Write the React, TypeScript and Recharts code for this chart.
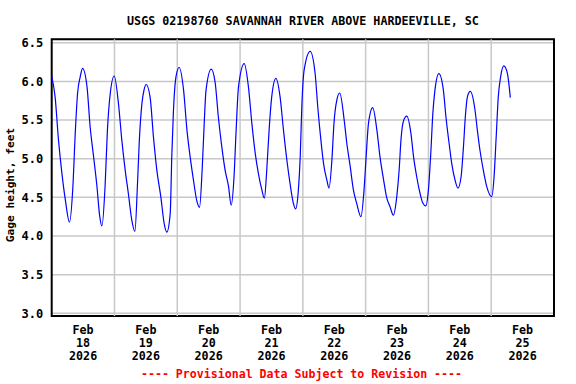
import React from 'react';
import { LineChart, Line, XAxis, YAxis, CartesianGrid, ReferenceLine, ReferenceArea } from 'recharts';

// hours since Feb 18 2026 00:00
const hours = [
  0, 1.3, 2.6, 3.9, 5.2, 6.8, 8.1, 9.0, 9.9, 10.9, 11.8, 13.5, 14.7, 16.0, 17.3, 18.3, 19.2,
  20.4, 21.3, 22.4, 23.9, 25.5, 26.8, 28.1, 29.3, 30.6, 31.8, 32.8, 33.5, 34.5, 35.3, 36.1,
  37.6, 38.9, 40.2, 41.7, 43.0, 44.0, 45.3, 45.9, 46.5, 47.5, 48.7, 50.4, 51.7, 52.9, 54.2,
  55.5, 56.5, 57.5, 58.3, 59.0, 61.0, 62.5, 63.7, 65.0, 66.3, 67.6, 68.6, 69.7, 70.5, 71.4,
  73.6, 75.2, 76.5, 77.8, 79.0, 80.3, 81.3, 82.2, 83.1, 84.1, 85.7, 87.3, 88.6, 89.9, 91.1,
  92.4, 93.2, 94.3, 95.0, 95.6, 96.5, 98.8, 100.7, 101.7, 102.9, 103.9, 105.2, 106.0, 107.1,
  107.9, 109.0, 110.1, 111.8, 112.8, 114.1, 115.3, 116.6, 118.2, 119.4, 120.2, 121.1, 122.7,
  124.3, 125.5, 126.8, 128.1, 129.3, 130.6, 131.9, 132.8, 133.5, 134.4, 135.7, 137.3, 138.3,
  139.5, 140.8, 141.8, 143.0, 144.0, 144.9, 145.7, 146.5, 148.0, 149.7, 150.7, 151.9, 152.9,
  154.2, 155.3, 156.5, 157.4, 158.1, 158.9, 160.0, 161.8, 162.7, 163.7, 165.0, 166.3, 168.2,
  169.1, 169.9, 170.7, 171.6, 172.8, 174.2, 175.3,
];

const gageHeight = [
  6.07, 5.80, 5.24, 4.81, 4.47, 4.18, 4.64, 5.33, 5.85, 6.06, 6.17, 5.93, 5.41, 5.03, 4.64, 4.27, 4.13,
  4.64, 5.37, 5.85, 6.07, 5.72, 5.24, 4.85, 4.55, 4.21, 4.06, 4.68, 5.24, 5.72, 5.89, 5.96,
  5.80, 5.28, 4.85, 4.51, 4.16, 4.05, 4.29, 5.03, 5.59, 6.06, 6.18, 5.89, 5.37, 5.03, 4.72,
  4.45, 4.37, 4.85, 5.46, 5.89, 6.16, 5.98, 5.54, 5.16, 4.85, 4.64, 4.40, 4.77, 5.37, 5.93,
  6.23, 5.93, 5.46, 5.07, 4.81, 4.60, 4.49, 4.85, 5.37, 5.80, 6.04, 5.80, 5.37, 4.98, 4.68,
  4.42, 4.35, 4.60, 5.03, 5.67, 6.15, 6.39, 6.10, 5.67, 5.24, 4.94, 4.72, 4.62, 4.98,
  5.46, 5.76, 5.85, 5.50, 5.20, 4.90, 4.60, 4.42, 4.25, 4.60, 5.03, 5.46, 5.66,
  5.37, 5.02, 4.74, 4.49, 4.38, 4.27, 4.51, 4.85, 5.24, 5.48, 5.55, 5.33, 5.03,
  4.77, 4.55, 4.43, 4.39, 4.60, 5.07, 5.59, 5.89, 6.10, 5.89, 5.54, 5.20, 4.94,
  4.72, 4.62, 4.77, 5.16, 5.54, 5.80, 5.87, 5.63, 5.37, 5.11, 4.85, 4.64, 4.51,
  4.77, 5.28, 5.80, 6.06, 6.20, 6.10, 5.79,
];

const dayLabels = ['18', '19', '20', '21', '22', '23', '24', '25'];
const labelTicks = [12, 36, 60, 84, 108, 132, 156, 180];
const dayLines = [24, 48, 72, 96, 120, 144, 168];
const yTicks = [3.0, 3.5, 4.0, 4.5, 5.0, 5.5, 6.0, 6.5];

const data = hours.map((h, i) => ({ h, v: gageHeight[i] }));

const FONT = '"DejaVu Sans Mono", monospace';

const DayTick = (props: any) => {
  const { x, y, payload } = props;
  const idx = labelTicks.indexOf(payload.value);
  const style = { fontFamily: FONT, fontSize: 11.7, fontWeight: 'bold' as const, fill: '#000' };
  return (
    <g>
      <text x={x} y={y + 18} textAnchor="middle" {...style}>Feb</text>
      <text x={x} y={y + 31} textAnchor="middle" {...style}>{dayLabels[idx]}</text>
      <text x={x} y={y + 44} textAnchor="middle" {...style}>2026</text>
    </g>
  );
};

export default function App() {
  return (
    <div style={{ position: 'fixed', left: 0, top: 0, width: 576, height: 384, background: '#fff' }}>
      <LineChart width={576} height={384} data={data} margin={{ top: 39.3, right: 22, bottom: 0, left: 0 }}>
        <CartesianGrid vertical={false} stroke="#c8c8c8" strokeWidth={1.5} />
        {dayLines.map((d) => (
          <ReferenceLine key={d} x={d} stroke="#c8c8c8" strokeWidth={1.5} />
        ))}
        <XAxis
          dataKey="h"
          type="number"
          domain={[0, 192]}
          ticks={labelTicks}
          tick={<DayTick />}
          tickLine={false}
          axisLine={false}
          tickSize={0}
          tickMargin={0}
          height={68}
          interval={0}
        />
        <YAxis
          type="number"
          domain={[2.965, 6.545]}
          ticks={yTicks}
          tickFormatter={(v: number) => v.toFixed(1)}
          tick={{ fontFamily: FONT, fontSize: 12, fontWeight: 'bold', fill: '#000' }}
          tickLine={false}
          axisLine={false}
          tickSize={0}
          tickMargin={8.4}
          width={51.7}
          interval={0}
        />
        <Line
          type="monotone"
          dataKey="v"
          stroke="#0000ff"
          strokeWidth={1.2}
          dot={false}
          isAnimationActive={false}
        />
        <ReferenceArea x1={0} x2={192} y1={2.965} y2={6.545} fill="none" stroke="#000" strokeWidth={2} ifOverflow="visible" />
      </LineChart>
      <svg width={576} height={384} style={{ position: 'absolute', left: 0, top: 0, pointerEvents: 'none' }}>
        <text x={303} y={25} textAnchor="middle" fontFamily={FONT} fontSize={11.7} fontWeight="bold" fill="#000">
          USGS 02198760 SAVANNAH RIVER ABOVE HARDEEVILLE, SC
        </text>
        <text
          x={14}
          y={185}
          transform="rotate(-90, 14, 185)"
          textAnchor="middle"
          fontFamily={FONT}
          fontSize={11.2}
          fontWeight="bold"
          fill="#000"
        >
          Gage height, feet
        </text>
        <text x={301.5} y={378} textAnchor="middle" fontFamily={FONT} fontSize={11.6} fontWeight="bold" fill="#ff0000">
          ---- Provisional Data Subject to Revision ----
        </text>
      </svg>
    </div>
  );
}
